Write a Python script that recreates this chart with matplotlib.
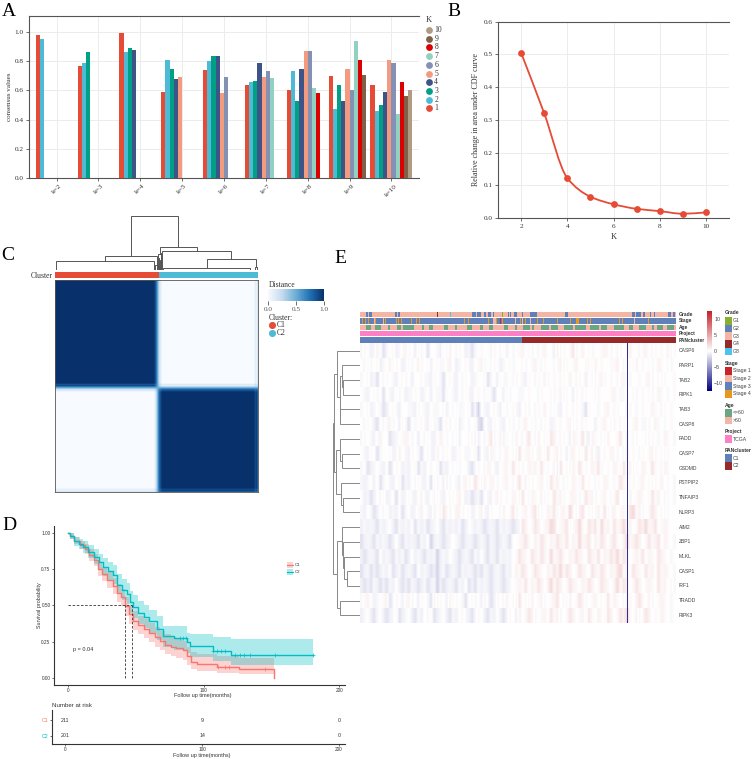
import numpy as np
import matplotlib as mpl
mpl.use('Agg')
import matplotlib.pyplot as plt
from matplotlib.colors import ListedColormap, LinearSegmentedColormap
from matplotlib.path import Path
from matplotlib.patches import PathPatch, Rectangle

W, H = 753, 759
SERIF = 'Liberation Serif'
SANS = 'Liberation Sans'
GREY = '#555555'

# ------- Panel A data -------
k_labels = ['k=2', 'k=3', 'k=4', 'k=5', 'k=6', 'k=7', 'k=8', 'k=9', 'k=10']
consensus = [
    [.98, .955],
    [.77, .79, .86],
    [.995, .86, .89, .88],
    [.59, .805, .745, .68, .695],
    [.74, .80, .835, .835, .58, .69],
    [.635, .655, .665, .785, .69, .735, .685],
    [.60, .73, .525, .745, .87, .87, .615, .58],
    [.70, .47, .64, .53, .745, .60, .94, .805, .705],
    [.64, .46, .50, .59, .805, .79, .435, .655, .565, .60],
]
npg = ['#E64B35', '#4DBBD5', '#00A087', '#3C5488', '#F39B7F',
       '#8491B4', '#91D1C2', '#DC0000', '#7E6148', '#B09C85']

# ------- Panel B data -------
k_values = [2, 3, 4, 5, 6, 7, 8, 9, 10]
cdf_change = [.505, .32, .122, .065, .042, .028, .021, .013, .017]

# ------- Panel C data -------
# consensus membership of each bin along the matrix axis (1 = C1, 0 = C2)
membership = ([1.0] * 99 + [.95, .86, .9, .72, .55, .35, .2, .12, .05]
              + [0.0] * 92 + [.04, .1, .07, .16])
# dendrogram: (height, left, right), leaves are sample positions
c_tree = (54,
          (14, (9, 2, 201), (5, 203, 209)),
          (23,
           (16, (12, (8, (5, 207, 208), (4, 209, 210)), (6, 211, 212)),
            (10, (3, 213, 214), (7, 215, 216))),
           (19, (17, 216, 218),
            (11, (2.3, 219, 396), (3, 405, 410)))))

# ------- Panel D data -------
t1 = [0, 2, 5, 9, 13, 16, 19, 22, 25, 29, 33, 36, 39, 42, 45, 48, 52, 56, 60, 64, 68, 72, 76, 80, 85, 88, 91, 95, 110, 126, 152]
s1 = [1, .98, .945, .915, .885, .845, .81, .75, .715, .675, .635, .585, .555, .495, .44, .395, .365, .34, .31, .28, .255, .23, .215, .205, .19, .15, .11, .096, .078, .06, 0]
lo1 = [1, .96, .92, .885, .85, .805, .77, .70, .665, .62, .58, .525, .495, .43, .375, .33, .30, .275, .245, .215, .19, .165, .15, .14, .125, .09, .06, .05, .035, .027, .027]
hi1 = [1, 1, .97, .945, .92, .885, .85, .80, .765, .73, .69, .645, .615, .56, .505, .46, .43, .405, .38, .35, .325, .30, .285, .27, .255, .215, .18, .165, .15, .135, .135]
t2 = [0, 2, 5, 8, 11.5, 15, 19, 23, 26, 30, 33.7, 36, 40, 43.5, 46, 48, 52, 56, 60, 66, 70.5, 78, 88, 90, 107, 120, 180.6]
s2 = [1, .975, .94, .92, .90, .87, .835, .795, .765, .735, .71, .64, .605, .58, .525, .49, .45, .42, .39, .34, .29, .273, .25, .22, .188, .158, .158]
lo2 = [1, .955, .91, .885, .86, .825, .785, .74, .705, .675, .645, .575, .535, .51, .45, .415, .375, .345, .31, .26, .21, .195, .17, .145, .115, .092, .092]
hi2 = [1, .995, .97, .955, .94, .915, .885, .85, .825, .795, .775, .715, .68, .655, .60, .57, .53, .50, .47, .425, .36, .355, .31, .30, .285, .266, .266]
cens1 = [111, 116, 119, 145]
cens2 = [83, 85, 87, 107, 110, 113, 116, 123, 127, 130, 134, 153, 181]
median_times = [42, 47.7]
risk_times = [0, 100, 200]
risk_c1 = [211, 9, 0]
risk_c2 = [201, 14, 0]

# ------- Panel E data -------
genes = ['CASP6', 'PARP1', 'TAB2', 'RIPK1', 'TAB3', 'CASP8', 'FADD', 'CASP7', 'GSDMD', 'PSTPIP2',
         'TNFAIP3', 'NLRP3', 'AIM2', 'ZBP1', 'MLKL', 'CASP1', 'IRF1', 'TRADD', 'RIPK3']
# one letter per column group, a = strong blue ... e = none ... i = strong red
expr_rows = [
    'dfecdgebdefcdfgdecfdebeedcfdgedfecdbdefeegdedfcedefgefdedfgeecgdfefhdegefdeefgfdedfefgeedfgedfefegdf',
    'edfdefcdegdfecdfdegdefcefddfgecdefdcefgdedfecdefdeefdefgedfeedfgdfefgeeffdgefeeffgedefdgefefdegfefde',
    'defcdbedfedcefdeceefddcfedbefdcedfecdeefbdecfddedfedcfedfegdefedfegedfecefdfgdefedfgedeefefgdefdfeef',
    'edcefdebedcfdecddfecdeceddbfedcedfdcefedfdbeecfdeeddefeedfeefdegdfecfedfeefdeeefgeddfefdefefdegfedef',
    'defcdedbcefdceeddcfedceddefcedfddefbdaedcefdcfdefdcefdedfegedfdcefedfedbfeedefgedfeedfedefeegfedfefe',
    'edfecbedfgdecfdbedefdcfddbefdefcdedefbaedcfedcefdedfgefdedfecdefefgdfedfeecefgefdedfeefgeddfegfedefe',
    'dfedcfgeebcdefgfdecedfdcegfdedfceefdgcedfhdegcfedgedfhedgefdhgedfecgfehdcgfefdgeefhdgedfeefdfedegfed',
    'edcfebdeefcdgedcfedbefdcgedfecdfeddefbedcgfedfgefdhefgdegfdhefgdecfgefdhegdcefegfdedgefedfefgdefdfee',
    'debcdedcebdfecdcefbdcedefbdcedfdeecbdfedgfdcefgdhefdegfgehdfegchefdgehfdegfhdefegfdhegdfegfehfedgfee',
    'dcdecfbdedcefbdcedfdcebfdecgdedcfgdehfdgegfdefgedfhegdfefgedhfgedfegfdhefedfegfedfhgedfefgefdfegefed',
    'ecdbcedfcdebecdfdcegdcedfdcefdfgecdbcdbedcfgdefegfdhedgfegdfehfgdefgfdehfgdefgedfhefdgefgfedhfgedfed',
    'dcedbcedfcdcebdecdfgedcgedhfdeggdefcdfgdcfeedgefhdefgeghdfegfhdfgeifdghefdfgehdfgefgdhifgdefhgefdfee',
    'cdcdcbdcdecbdcdcebdcdbcdecbdcdcdbcedcdcbcdcbdcdcbcdhgefhgefgihefghdfgifehghdifgehfgifgefhgifghefgfee',
    'bcdcbdcdcbcecbdcdcbdceacdcbcdedcbcdcbcdcbdcbcdcbeefghfegfhgegfhgfhegfifghegfhgeghfegifghgefhfghegfed',
    'cbcdcbecdcbdcdbcecdcbdcdacdcedcbcdcbdcecbdcbdcdcefhgfehgfhgeifghfegfhgfehgfhegfhgifhgefgfhegfehgfede',
    'bcdbcbcdcebcdbcdcbecdcbcacdbcdcbdcdcbcbdcbcdcbdcegfhgefhgfegfhgifhgefhgfehgfhgegfhifgehgfehfgehfgfed',
    'cbcbdcbcbdcecbcbdcbcdbcdacbcdcbdcebcbdcdcbcdcbcdefgfhegfhgegifhgefhgfegfhgefhgfegifhgefhgefgfehfgefd',
    'dfgecdefgbdfecfgdecfedbgdfecgdfedbefdecgdbcfedgefdhefdgefgdefghefdgefhgdefgefdhegfedgfeghfegdefgfede',
    'cdecbdecbcdfbcdecbdcedfbcdecbdcefdcbdfecbdcecbdfecgefhgdefgehfgdefhgefgdhfegfdhgefhgifegdfhgefegfede',
]
n_samples = 412
cluster_split = 211
outlier_sample = 349
grade_g2 = [8, 9, 10, 12, 13, 14, 15, 27, 46, 47, 49, 50, 51, *range(146, 151), *range(152, 158), 160, 162, 163,
            *range(167, 171), 174, 193, 196, *range(201, 205), 211, *range(222, 225), *range(226, 231),
            *range(267, 271), *range(355, 359), *range(360, 366), *range(369, 372), 378, 383,
            *range(401, 405), *range(408, 411)]
grade_g4 = [100, 101]
grade_g8 = [117]
grade_g1 = [185]
stage_s4 = [3, 7, 11, 20, 33, 47, 50, 54, 67, 70, 73, 77, 136, 141, 167, 177, 185, 209, 215, 231, 239, 257, 263, 268,
            274, 282, 283, 284, 296, 300, 338, 342, 376]
stage_s1 = [182, 183]
stage_s2 = [18, 30, 174, 175, 176, 177, 178, 202, 211, 222, 357]
age_codes = ('sssggssgggsssgsssggsgggggssssgssggsssssggsssgsssssggssssgsssggsssssggsssgsssgggsgsss'
             'ggggsgggsssggggsgggggssggggsgggsssgggggssggsssgggsssgsgggssgggs')
# dendrogram: (height, left, right), leaves are gene rows
e_tree = (26.7,
          (25.7,
           (23.3, 0, (20.3, (18, 1, (17, 2, 3)), (20, 4, 5))),
           (24, (20, 6, (18.5, 7, 8)), (19, 9, (17, 10, 11)))),
          (23.3,
           (18.3, 12, (17.3, 13, (16, 14, (13.3, 15, 16)))),
           (20, 17, 18)))

grade_names = ['G1', 'G2', 'G3', 'G4', 'G8']
grade_colors = ['#86B02E', '#5F80B8', '#F5B5A5', '#962A2A', '#4DC4F0']
stage_names = ['Stage 1', 'Stage 2', 'Stage 3', 'Stage 4']
stage_colors = ['#C8242B', '#F5B5A5', '#5F80B8', '#E8981F']
age_names = ['<=60', '>60']
age_colors = ['#6BA583', '#F5B5A5']
project_color = '#FF7FC4'
pan_colors = ['#5F80B8', '#962A2A']


# ------- Helpers -------
def px_axes(left, top, right, bottom, **kw):
    return fig.add_axes([left / W, 1 - bottom / H, (right - left) / W, (bottom - top) / H], **kw)


def style_axis(ax, size=5.2, font=SERIF, length=2.5, pad=1.5):
    for s in ['top', 'right', 'left', 'bottom']:
        ax.spines[s].set_color(GREY)
        ax.spines[s].set_linewidth(0.8)
    ax.spines['right'].set_visible(False)
    ax.tick_params(colors=GREY, labelsize=size, length=length, width=0.6, pad=pad)
    for lab in ax.get_xticklabels() + ax.get_yticklabels():
        lab.set_fontfamily(font)
        lab.set_color('#333333')


def draw_tree(ax, node, vertical=False, color='#777777', lw=0.7):
    # returns the leaf-axis position of a node
    if not isinstance(node, tuple):
        return node, 0
    h, left, right = node
    p1, h1 = draw_tree(ax, left, vertical, color, lw)
    p2, h2 = draw_tree(ax, right, vertical, color, lw)
    a = [p1, p1, p2, p2]
    b = [h1, h, h, h2]
    if vertical:
        ax.plot(b, a, color=color, lw=lw, solid_joinstyle='miter')
    else:
        ax.plot(a, b, color=color, lw=lw, solid_joinstyle='miter')
    return (p1 + p2) / 2, h


def smooth_path(x, y):
    x = np.asarray(x, float)
    y = np.asarray(y, float)
    d = np.diff(y) / np.diff(x)
    m = np.zeros(len(y))
    m[0], m[-1] = d[0], d[-1]
    for i in range(1, len(y) - 1):
        if d[i - 1] * d[i] > 0:
            m[i] = 2 * d[i - 1] * d[i] / (d[i - 1] + d[i])
    verts = [(x[0], y[0])]
    codes = [Path.MOVETO]
    for i in range(len(y) - 1):
        s = (x[i + 1] - x[i]) / 3
        verts += [(x[i] + s, y[i] + m[i] * s), (x[i + 1] - s, y[i + 1] - m[i + 1] * s), (x[i + 1], y[i + 1])]
        codes += [Path.CURVE4] * 3
    return Path(verts, codes)


fig = plt.figure(figsize=(W / 100, H / 100), dpi=100, facecolor='white')

# overlay in pixel coordinates for the free standing texts and legends
ov = fig.add_axes([0, 0, 1, 1], zorder=10)
ov.set_xlim(0, W)
ov.set_ylim(H, 0)
ov.axis('off')


def label(x, y, s, size=5.2, font=SERIF, color='#333333', **kw):
    kw.setdefault('va', 'center')
    kw.setdefault('ha', 'left')
    ov.text(x, y, s, fontsize=size, fontfamily=font, color=color, **kw)


for s, x, y in [('A', 2, 16), ('B', 447, 16), ('C', 1, 260), ('D', 2, 530), ('E', 334, 263)]:
    label(x, y, s, size=14, color='black', va='baseline')

# ------- Panel A -------
ax = px_axes(29, 16, 419, 178)
bar_w = 0.1
for i, vals in enumerate(consensus):
    for j, v in enumerate(vals):
        ax.bar(i - 0.5 + (j + 0.5) * bar_w, v, width=bar_w, color=npg[j], zorder=3, linewidth=0)
ax.set_xlim(-0.66, 8.66)
ax.set_ylim(0, 162 / 146)
ax.set_xticks(range(9))
ax.set_xticklabels(k_labels, rotation=45, ha='center', va='top')
ax.set_yticks([0, .2, .4, .6, .8, 1.0])
ax.set_yticklabels(['0.0', '0.2', '0.4', '0.6', '0.8', '1.0'])
ax.grid(color='#ececec', lw=0.7, zorder=0)
ax.set_axisbelow(True)
style_axis(ax)
label(10, 97, 'consensus values', rotation=90, ha='center', size=5.1)
label(425.5, 20.5, 'K', size=6)
for j in range(10):
    y = 108.3 - j * 8.7
    ov.scatter([429], [y], s=24, color=npg[j], linewidths=0)
    label(434.3, y, str(j + 1), size=5.5)

# ------- Panel B -------
ax = px_axes(498, 21.7, 729, 218)
ax.add_patch(PathPatch(smooth_path(k_values, cdf_change), fill=False, edgecolor=npg[0], lw=1.3, zorder=3))
ax.scatter(k_values, cdf_change, s=24, color=npg[0], zorder=4, linewidths=0, clip_on=False)
ax.set_xlim(1, 11)
ax.set_ylim(0, 0.6)
ax.set_xticks([2, 4, 6, 8, 10])
ax.set_yticks([0, .1, .2, .3, .4, .5, .6])
ax.set_yticklabels(['0.0', '0.1', '0.2', '0.3', '0.4', '0.5', '0.6'])
ax.grid(color='#ececec', lw=0.7, zorder=0)
ax.set_axisbelow(True)
style_axis(ax)
label(476, 120, 'Relative change in area under CDF curve', rotation=90, ha='center', size=5.8)
label(614, 237, 'K', ha='center', size=6)

# ------- Panel C -------
blues = LinearSegmentedColormap.from_list('blues', ['#F7FBFF', '#C6DBEF', '#6BAED6', '#2171B5', '#08306B'])
p = np.array(membership)
matrix = np.outer(p, p) + np.outer(1 - p, 1 - p)
ax = px_axes(55, 280, 258, 491.7)
ax.imshow(matrix, cmap=blues, vmin=0, vmax=1, aspect='auto', interpolation='nearest')
ax.set_xticks([])
ax.set_yticks([])
for s in ax.spines.values():
    s.set_color(GREY)
    s.set_linewidth(0.6)

ax = px_axes(55, 271.9, 258, 277.7)
ax.imshow(np.array([[0] * cluster_split + [1] * (n_samples - cluster_split)]),
          cmap=ListedColormap([npg[0], npg[1]]), aspect='auto', interpolation='nearest')
ax.axis('off')
label(52.7, 276, 'Cluster', ha='right', size=5.5)

ax = px_axes(55, 214, 258, 270)
draw_tree(ax, c_tree, lw=0.7, color='#555555')
ax.set_xlim(0, n_samples)
ax.set_ylim(0, 56)
ax.axis('off')

ax = px_axes(268, 289, 324, 300.7)
ax.imshow(np.linspace(0, 1, 256)[None, :], cmap=blues, aspect='auto', extent=[0, 1, 0, 1])
ax.set_yticks([])
ax.set_xticks([0, .5, 1])
ax.set_xticklabels(['0.0', '0.5', '1.0'])
ax.tick_params(length=3, width=0.6, labelsize=5.2, pad=1.5, colors=GREY)
for lab in ax.get_xticklabels():
    lab.set_fontfamily(SERIF)
for s in ax.spines.values():
    s.set_visible(False)
label(268.5, 285, 'Distance', size=5.5)
label(269, 318, 'Cluster:', size=5.5)
for name, y, c in [('C1', 325, npg[0]), ('C2', 333.3, npg[1])]:
    ov.scatter([272], [y], s=26, color=c, linewidths=0)
    label(277, y, name, size=5.5)

# ------- Panel D -------
C1_COL, C2_COL = '#F8766D', '#00BFC4'
ax = px_axes(54, 526, 345, 685)
ax.fill_between(t1, lo1, hi1, step='post', color=C1_COL, alpha=0.32, linewidth=0)
ax.fill_between(t2, lo2, hi2, step='post', color=C2_COL, alpha=0.32, linewidth=0)
ax.step(t1, s1, where='post', color=C1_COL, lw=1)
ax.step(t2, s2, where='post', color=C2_COL, lw=1)
ax.scatter(cens1, [s1[np.searchsorted(t1, t, side='right') - 1] for t in cens1], marker='+', s=5, color=C1_COL, linewidths=0.5)
ax.scatter(cens2, [s2[np.searchsorted(t2, t, side='right') - 1] for t in cens2], marker='+', s=5, color=C2_COL, linewidths=0.5)
ax.plot([0, max(median_times)], [.5, .5], color='#333333', lw=0.6, ls=(0, (3, 2)))
for t in median_times:
    ax.plot([t, t], [0, .5], color='#333333', lw=0.6, ls=(0, (3, 2)))
ax.set_xlim((54 - 67.7) / 1.358, (345 - 67.7) / 1.358)
ax.set_ylim((678 - 685) / 145.3, (678 - 526) / 145.3)
ax.set_xticks([0, 100, 200])
ax.set_yticks([0, .25, .5, .75, 1])
ax.set_yticklabels(['0.00', '0.25', '0.50', '0.75', '1.00'])
ax.spines['top'].set_visible(False)
style_axis(ax, size=3.4, font=SANS, length=1.5, pad=1)
ax.spines['left'].set_color('#333333')
ax.spines['bottom'].set_color('#333333')
label(73, 649, 'p = 0.04', size=4, font=SANS)
label(203, 695.5, 'Follow up time(months)', ha='center', size=4, font=SANS)
label(39.5, 605, 'Survival probability', rotation=90, ha='center', size=3.9, font=SANS)
for name, y, c in [('C1', 565, C1_COL), ('C2', 572, C2_COL)]:
    ov.add_patch(Rectangle((287, y - 3.4), 6, 6.8, color=c, alpha=0.32, linewidth=0))
    ov.plot([287, 293], [y, y], color=c, lw=0.8)
    label(295, y, name, size=3.2, font=SANS)

ax = px_axes(51.7, 710, 345, 744)
ax.set_xlim((51.7 - 65) / 1.37, (345 - 65) / 1.37)
ax.set_ylim(744, 710)
for i, t in enumerate(risk_times):
    ax.text(t, 720, str(risk_c1[i]), ha='center', va='center', fontsize=3.8, fontfamily=SANS, color='#333333')
    ax.text(t, 735.7, str(risk_c2[i]), ha='center', va='center', fontsize=3.8, fontfamily=SANS, color='#333333')
ax.set_xticks(risk_times)
ax.set_yticks([720, 735.7])
ax.set_yticklabels(['C1', 'C2'])
ax.spines['top'].set_visible(False)
style_axis(ax, size=3.4, font=SANS, length=1.5, pad=1)
ax.spines['left'].set_color('#333333')
ax.spines['bottom'].set_color('#333333')
for lab, c in zip(ax.get_yticklabels(), [C1_COL, C2_COL]):
    lab.set_color(c)
    lab.set_fontsize(3.8)
label(52, 705.7, 'Number at risk', size=4.4, font=SANS)
label(202, 755, 'Follow up time(months)', ha='center', size=4, font=SANS)

# ------- Panel E -------
letter_vals = dict(zip('abcdefghi', [-3, -2, -1, -0.5, 0, 0.5, 1, 2, 3]))
n_col = max(len(r) for r in expr_rows)
expr = np.array([[letter_vals[c] for c in r.ljust(n_col, 'e')] for r in expr_rows], float)
heat_cmap = LinearSegmentedColormap.from_list('bwr2', ['#000080', '#FFFFFF', '#C4222B'])
ax = px_axes(360, 343.3, 675.7, 622.7)
# each gene row on its own so that rows stay separate
for i in range(len(genes)):
    ax.imshow(expr[i][None, :] * 0.7, cmap=heat_cmap, vmin=-12.5, vmax=12.5, aspect='auto',
              interpolation='bilinear', extent=[0, n_samples, i + 1, i])
ax.set_xlim(0, n_samples)
ax.set_ylim(len(genes), 0)
ax.axvline(outlier_sample, color='#2B2B8C', lw=0.7)
ax.axis('off')
for i, g in enumerate(genes):
    label(679, 343.3 + (i + 0.5) * 279.4 / 19, g, size=3.6, font=SANS, color='#444444')

ax = px_axes(333, 343.3, 360, 622.7)
draw_tree(ax, e_tree, vertical=True, color='#888888', lw=0.7)
ax.set_xlim(27, 0)
ax.set_ylim(18.5, -0.5)
ax.axis('off')

grade = np.full(n_samples, 2)
grade[grade_g1] = 0
grade[grade_g2] = 1
grade[grade_g4] = 3
grade[grade_g8] = 4
stage = np.full(n_samples, 2)
stage[stage_s2] = 1
stage[stage_s4] = 3
stage[stage_s1] = 0
age = np.array([1 if c == 's' else 0 for c in age_codes])
project = np.zeros(n_samples, int)
pan = np.array([0] * cluster_split + [1] * (n_samples - cluster_split))
strips = [('Grade', grade, grade_colors, 312), ('Stage', stage, stage_colors, 318.2),
          ('Age', age, age_colors, 324.5), ('Project', project, [project_color], 331),
          ('PANcluster', pan, pan_colors, 337.4)]
for name, codes, cols, top in strips:
    ax = px_axes(360, top, 675.7, top + 5.4)
    ax.imshow(codes[None, :], cmap=ListedColormap(cols), vmin=0, vmax=len(cols) - 1 if len(cols) > 1 else 1,
              aspect='auto', interpolation='nearest')
    ax.axis('off')
    label(679, top + 2.7, name, size=3.5, font=SANS, fontweight='bold')

ax = px_axes(707.3, 311, 712, 390.7)
ax.imshow(np.linspace(12.5, -12.5, 256)[:, None], cmap=heat_cmap, aspect='auto', extent=[0, 1, -12.5, 12.5])
ax.set_xticks([])
ax.yaxis.tick_right()
ax.set_yticks([-10, -5, 0, 5, 10])
ax.set_yticklabels(['\u221210', '\u22125', '0', '5', '10'])
ax.tick_params(length=0, labelsize=3.8, pad=1.5)
for lab in ax.get_yticklabels():
    lab.set_fontfamily(SANS)
    lab.set_color('#444444')
for s in ax.spines.values():
    s.set_visible(False)

legends = [('Grade', 313, grade_names, grade_colors, 320.7), ('Stage', 363, stage_names, stage_colors, 370.7),
           ('Age', 405, age_names, age_colors, 412.7), ('Project', 431.7, ['TCGA'], [project_color], 439.3),
           ('PANcluster', 451, ['C1', 'C2'], pan_colors, 458)]
for title, ty, names, cols, y0 in legends:
    label(724.7, ty, title, size=3.6, font=SANS, fontweight='bold')
    for i, (n, c) in enumerate(zip(names, cols)):
        y = y0 + i * 7.7
        ov.add_patch(Rectangle((724.7, y - 3.85), 7.3, 7.7, color=c, linewidth=0))
        label(733.2, y, n, size=3.7, font=SANS, color='#444444')

fig.savefig('out.png', dpi=100)
